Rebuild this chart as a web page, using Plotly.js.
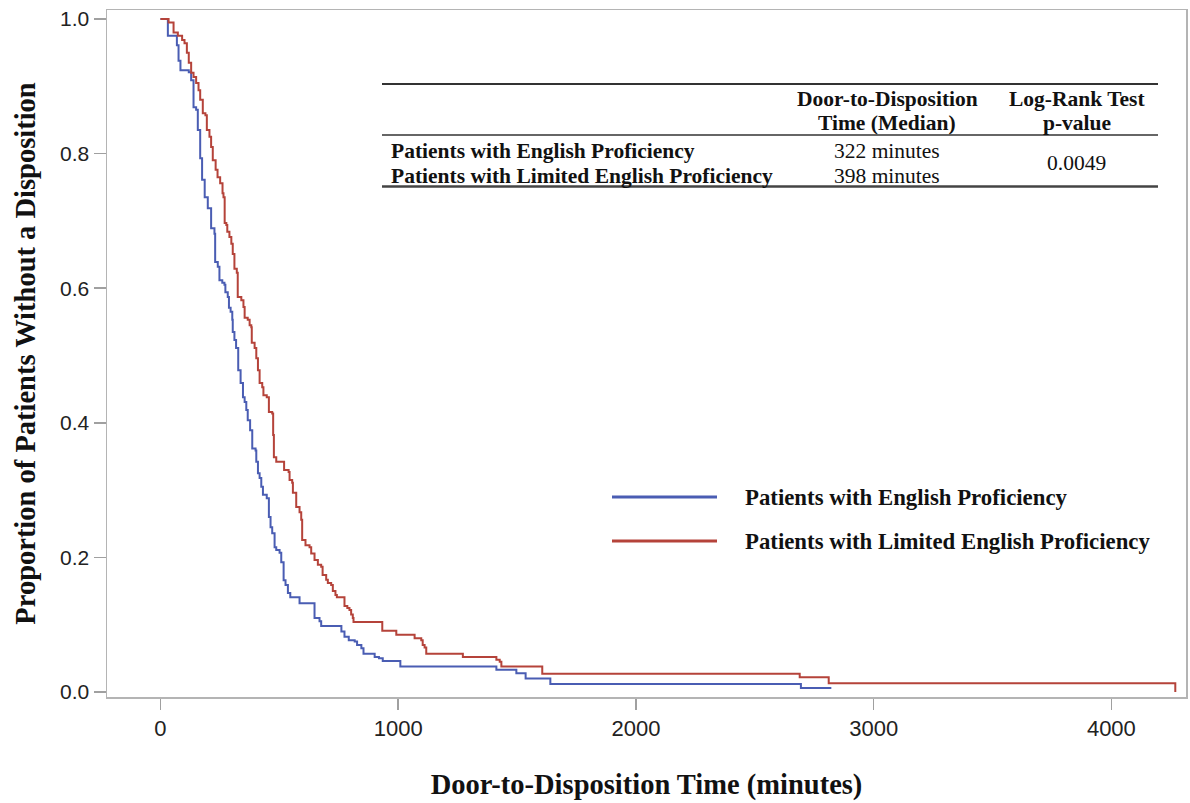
<!DOCTYPE html>
<html>
<head>
<meta charset="utf-8">
<script src="https://cdn.plot.ly/plotly-3.0.1.min.js"></script>
<style>html,body{margin:0;padding:0;background:#fff;}#chart{width:1190px;height:803px;}</style>
</head>
<body>
<div id="chart"></div>
<script>
// Kaplan-Meier step data (minutes, proportion without disposition)
const englishTime = [0,31,69,76,84,119,129,139,150,157,167,175,186,199,213,227,230,241,248,260,269,273,283,288,295,302,304,311,318,327,337,347,354,361,367,377,386,400,403,410,417,424,431,447,456,463,470,480,487,501,508,518,526,536,546,585,648,669,676,761,774,792,817,827,845,854,901,919,935,1009,1413,1497,1536,1640,2694,2822];
const englishSurv = [1.000,0.975,0.961,0.938,0.924,0.921,0.909,0.869,0.865,0.835,0.793,0.761,0.735,0.719,0.689,0.681,0.639,0.632,0.612,0.608,0.605,0.594,0.587,0.571,0.565,0.553,0.535,0.523,0.511,0.478,0.459,0.438,0.431,0.419,0.404,0.389,0.362,0.359,0.342,0.325,0.318,0.305,0.293,0.288,0.260,0.245,0.236,0.215,0.211,0.207,0.193,0.166,0.159,0.147,0.141,0.132,0.110,0.105,0.098,0.090,0.082,0.077,0.075,0.070,0.065,0.057,0.052,0.050,0.046,0.038,0.033,0.028,0.020,0.012,0.006,0.006];

const limitedTime = [0,34,55,73,91,101,111,119,129,139,150,160,167,178,189,195,206,213,220,232,240,251,261,265,270,277,281,290,298,304,311,321,325,340,349,354,367,375,382,384,396,403,410,417,428,433,447,456,470,474,477,487,520,539,543,554,557,571,585,592,596,610,627,634,648,662,676,682,697,704,718,725,736,742,774,786,795,802,809,812,933,992,1069,1097,1103,1111,1118,1272,1413,1427,1434,1606,2689,2811,4269];
const limitedSurv = [1.000,0.995,0.980,0.975,0.969,0.964,0.950,0.935,0.920,0.914,0.905,0.894,0.880,0.860,0.857,0.835,0.825,0.810,0.790,0.776,0.765,0.756,0.741,0.735,0.697,0.694,0.684,0.676,0.666,0.651,0.629,0.623,0.587,0.582,0.572,0.556,0.553,0.545,0.542,0.519,0.511,0.496,0.478,0.459,0.453,0.441,0.438,0.416,0.414,0.382,0.349,0.342,0.330,0.327,0.315,0.311,0.296,0.275,0.267,0.256,0.226,0.218,0.215,0.206,0.196,0.189,0.186,0.174,0.167,0.162,0.159,0.150,0.144,0.141,0.128,0.125,0.122,0.115,0.110,0.104,0.091,0.085,0.080,0.077,0.070,0.066,0.057,0.052,0.048,0.045,0.038,0.027,0.022,0.013,0.000];

const seriesNames = ['Patients with English Proficiency', 'Patients with Limited English Proficiency'];
const xTicks = [0, 1000, 2000, 3000, 4000];
const yTicks = [0.0, 0.2, 0.4, 0.6, 0.8, 1.0];
const tableHeader1 = ['Door-to-Disposition', 'Time (Median)'];
const tableHeader2 = ['Log-Rank Test', 'p-value'];
const medians = ['322 minutes', '398 minutes'];
const pValue = '0.0049';

const BLUE = '#4a5db3';
const RED = '#b5433a';
const SERIF = '"Liberation Serif", "Times New Roman", serif';
const SANS = '"Liberation Sans", Arial, sans-serif';

// plot area in page pixels (for placing the in-plot table and legend)
const L = 107, R = 1186, T = 10, B = 697;
const px = v => (v - L) / (R - L);
const py = v => (B - v) / (B - T);

const traces = [
  {x: englishTime, y: englishSurv, type: 'scatter', mode: 'lines', line: {shape: 'hv', color: BLUE, width: 2}, name: seriesNames[0], showlegend: false},
  {x: limitedTime, y: limitedSurv, type: 'scatter', mode: 'lines', line: {shape: 'hv', color: RED, width: 2}, name: seriesNames[1], showlegend: false}
];

const shapes = [
  {type: 'line', xref: 'paper', yref: 'paper', x0: px(382), x1: px(1158), y0: py(84), y1: py(84), line: {color: '#333', width: 2}},
  {type: 'line', xref: 'paper', yref: 'paper', x0: px(382), x1: px(1158), y0: py(135), y1: py(135), line: {color: '#333', width: 1.5}},
  {type: 'line', xref: 'paper', yref: 'paper', x0: px(382), x1: px(1158), y0: py(186.5), y1: py(186.5), line: {color: '#444', width: 2.5}},
  {type: 'line', xref: 'paper', yref: 'paper', x0: px(612), x1: px(717), y0: py(497), y1: py(497), line: {color: BLUE, width: 3}},
  {type: 'line', xref: 'paper', yref: 'paper', x0: px(612), x1: px(717), y0: py(541), y1: py(541), line: {color: RED, width: 3}}
];

function ann(text, x, y, anchor, bold, size) {
  return {text: bold ? '<b>' + text + '</b>' : text, xref: 'paper', yref: 'paper', x: px(x), y: py(y),
    xanchor: anchor, yanchor: 'middle', showarrow: false, font: {family: SERIF, size: size, color: '#111'}};
}

const annotations = [
  ann(tableHeader1[0], 887, 99, 'center', true, 21.5),
  ann(tableHeader1[1], 887, 123, 'center', true, 21.5),
  ann(tableHeader2[0], 1077, 99, 'center', true, 21.5),
  ann(tableHeader2[1], 1077, 123, 'center', true, 21.5),
  ann(seriesNames[0], 389, 151, 'left', true, 21.5),
  ann(seriesNames[1], 389, 176, 'left', true, 21.5),
  ann(medians[0], 887, 151, 'center', false, 21.5),
  ann(medians[1], 887, 176, 'center', false, 21.5),
  ann(pValue, 1076, 163, 'center', false, 21.5),
  ann(seriesNames[0], 743, 497, 'left', true, 22.8),
  ann(seriesNames[1], 743, 541, 'left', true, 22.8)
];

const layout = {
  width: 1190, height: 803,
  margin: {l: L, r: 1190 - R, t: T, b: 803 - B},
  paper_bgcolor: '#fff', plot_bgcolor: '#fff',
  showlegend: false,
  xaxis: {
    range: [-225, 4314], tickvals: xTicks, ticktext: xTicks.map(String),
    ticks: 'outside', ticklen: 11, tickwidth: 1.5, tickcolor: '#a0a0a0',
    showline: true, mirror: true, linecolor: '#b4b4b4', linewidth: 1.5,
    showgrid: false, zeroline: false,
    tickfont: {family: SANS, size: 22, color: '#222'},
    title: {text: '<b>Door-to-Disposition Time (minutes)</b>', font: {family: SERIF, size: 28.5, color: '#111'}, standoff: 34}
  },
  yaxis: {
    range: [-0.0074, 1.0134], tickvals: yTicks, ticktext: yTicks.map(v => v.toFixed(1)),
    ticks: 'outside', ticklen: 12, tickwidth: 1.5, tickcolor: '#a0a0a0',
    showline: true, mirror: true, linecolor: '#b4b4b4', linewidth: 1.5,
    showgrid: false, zeroline: false,
    tickfont: {family: SANS, size: 21, color: '#222'},
    title: {text: '<b>Proportion of Patients Without a Disposition</b>', font: {family: SERIF, size: 28.5, color: '#111'}, standoff: 16}
  },
  shapes: shapes,
  annotations: annotations
};

Plotly.newPlot('chart', traces, layout, {staticPlot: true, displayModeBar: false});
</script>
</body>
</html>
